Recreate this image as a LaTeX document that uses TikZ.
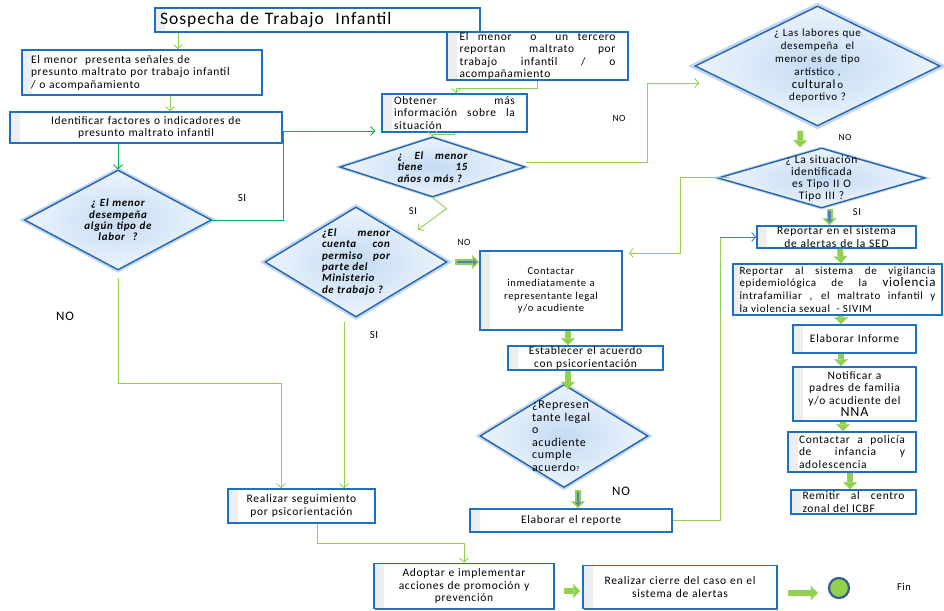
\documentclass[tikz,border=0pt]{standalone}
\usepackage{fontspec}
\setmainfont{Carlito}[LetterSpace=6]
\usepackage{tikz}
\usetikzlibrary{shapes.geometric,shadows,arrows.meta,calc}

\definecolor{boxblue}{RGB}{30,112,192}
\definecolor{shadowblue}{RGB}{20,45,90}
\definecolor{diamblue}{RGB}{40,100,165}
\definecolor{diamfill}{RGB}{196,219,243}
\definecolor{diamlight}{RGB}{236,244,252}
\definecolor{glowblue}{RGB}{150,190,235}
\definecolor{lgreen}{RGB}{146,208,80}
\definecolor{dgreen}{RGB}{0,176,80}
\definecolor{coreblue}{RGB}{79,129,189}
\definecolor{finblue}{RGB}{56,93,138}

\begin{document}
\begin{tikzpicture}[x=1pt,y=-1pt,
    box/.style={rectangle, draw=boxblue, line width=1.6pt, fill=white, inner sep=0pt,
      align=center, font=\fontsize{11.5}{12.5}\selectfont,
      drop shadow={fill=shadowblue, opacity=0.7, shadow xshift=1.2pt, shadow yshift=-1.2pt},
      path picture={\fill[left color=black!7, right color=white]
        (path picture bounding box.south west) rectangle ([xshift=10pt]path picture bounding box.north west);}},
    decision/.style={diamond, draw=diamblue, line width=1.4pt, inner sep=-6pt, align=center,
      inner color=diamfill, outer color=diamlight,
      drop shadow={fill=glowblue, opacity=0.6, shadow xshift=0pt, shadow yshift=0pt, shadow scale=1.06}},
    ask/.style={font=\fontsize{11}{11.3}\selectfont\bfseries\itshape},
    tag/.style={font=\fontsize{11}{12}\selectfont},
    link/.style={draw=lgreen, line width=0.9pt},
    block/.style={draw=lgreen, line width=6pt, -{Triangle[width=14pt,length=7pt,line width=0.1pt]}},
    core/.style={draw=coreblue, line width=2.6pt, shorten <=2pt, shorten >=2.5pt,
      -{Triangle[width=6pt,length=3.5pt,line width=0.1pt]}},
    execute at begin node={\hyphenpenalty=10000},
    >={Straight Barb[length=4pt,width=9pt]}]
  \useasboundingbox (0,0) rectangle (944,610);

  \node[box, line width=2.6pt, minimum width=325, minimum height=24, text width=315, align=left,
    font=\fontsize{17.5}{20}\selectfont] (sospecha) at (317.5,20) {Sospecha de Trabajo\ \ Infantil};
  \node[box, minimum width=240, minimum height=45, text width=222, align=left] (senales) at (142,72.5)
    {El menor~ presenta señales de\\ presunto maltrato por trabajo infantil\\ / o acompañamiento};
  \node[box, minimum width=272, minimum height=31, text width=260] (factores) at (146,127.5)
    {Identificar factores o indicadores de\\ presunto maltrato infantil};
  \node[decision, aspect=1.87, minimum width=187, minimum height=100, text width=74, ask] (labor) at (118,220)
    {¿ El menor\\ desempeña\\ algún tipo de\\ labor~ ?};

  \node[box, minimum width=181, minimum height=48, text width=156, align=justify] (tercero) at (537.5,56)
    {El menor~ o~ un tercero\linebreak reportan maltrato por\linebreak trabajo infantil / o\linebreak acompañamiento};
  \node[box, minimum width=145, minimum height=38, text width=121, align=justify] (info) at (454.5,113)
    {Obtener más\linebreak información sobre la\linebreak situación};
  \node[decision, aspect=3.08, minimum width=185, minimum height=60, text width=70, ask, align=justify] (edad) at (432.5,167)
    {¿ El menor\linebreak tiene 15\linebreak años o más ?};
  \node[decision, aspect=1.65, minimum width=182, minimum height=110, text width=68, ask, align=justify] (permiso) at (356,262)
    {¿El menor\linebreak cuenta con\linebreak permiso por\linebreak parte del\\ Ministerio\\ de trabajo ?};

  \node[box, minimum width=142, minimum height=79, text width=130, font=\fontsize{10.5}{12.4}\selectfont] (contactar) at (551,290.5)
    {Contactar\\ inmediatamente a\\ representante legal\\ y/o acudiente};
  \node[box, minimum width=155, minimum height=24, text width=150] (acuerdo) at (585.5,358)
    {Establecer el acuerdo\\ con psicorientación};
  \node[decision, aspect=1.63, minimum width=168, minimum height=103, text width=64, align=left,
    font=\fontsize{12}{12.5}\selectfont] (cumple) at (564,436)
    {¿Represen\\ tante legal\\ o\\ acudiente\\ cumple\\ acuerdo{\scriptsize ?}};
  \node[box, minimum width=202, minimum height=23, text width=190] (reporte) at (571,520.5) {Elaborar el reporte};

  \node[decision, aspect=2.04, minimum width=245, minimum height=120, text width=110,
    font=\fontsize{11}{12.8}\selectfont] (artistico) at (817.5,66)
    {¿ Las labores que\\ desempeña~ el\\ menor es de tipo\\ artístico ,\\ {\fontsize{12.5}{12.8}\selectfont cultural}\,o\\ deportivo ?};
  \node[decision, aspect=3.45, minimum width=207, minimum height=60, text width=86,
    font=\fontsize{11.5}{12}\selectfont] (tipo) at (821.5,178)
    {¿ La situación\\ identificada\\ es Tipo II O\\ Tipo III ?};

  \node[box, minimum width=159, minimum height=22, text width=150] (sed) at (836.5,237)
    {Reportar en el sistema\\ de alertas de la SED};
  \node[box, minimum width=209, minimum height=51, text width=196, align=justify,
    font=\fontsize{11}{12.8}\selectfont] (sivim) at (837.5,289.5)
    {Reportar al sistema de vigilancia\linebreak epidemiológica de la {\fontsize{13}{12.8}\selectfont violencia}\linebreak intrafamiliar , el maltrato infantil y\linebreak la violencia sexual~ - SIVIM};
  \node[box, minimum width=123, minimum height=28, text width=115] (informe) at (854.5,339) {Elaborar Informe};
  \node[box, minimum width=123, minimum height=54, text width=118] (notificar) at (854.5,394)
    {Notificar a\\ padres de familia\\ y/o acudiente del\\ {\fontsize{14}{13}\selectfont NNA}};
  \node[box, minimum width=128, minimum height=40, text width=106, align=justify] (policia) at (852,452)
    {Contactar a policía\linebreak de infancia y\linebreak adolescencia};
  \node[box, minimum width=125, minimum height=24, text width=102, align=justify] (icbf) at (853.5,502)
    {Remitir al centro\linebreak zonal del ICBF};

  \node[box, minimum width=147, minimum height=34, text width=140] (seguimiento) at (301.5,506)
    {Realizar seguimiento\\ por psicorientación};
  \node[box, minimum width=180, minimum height=45, text width=176] (promocion) at (464,586)
    {Adoptar e implementar\\ acciones de promoción y\\ prevención};
  \node[box, minimum width=194, minimum height=43, text width=186] (cierre) at (680,587)
    {Realizar cierre del caso en el\\ sistema de alertas};
  \node[circle, draw=finblue, line width=2.2pt, fill=lgreen, minimum size=20] (fin) at (839,588) {};

  \node[tag] (si1) at (242,198) {SI};
  \node[tag, font=\fontsize{9.5}{10}\selectfont] (no1) at (619,118) {NO};
  \node[tag, font=\fontsize{9.5}{10}\selectfont] (no2) at (845,137) {NO};
  \node[tag, font=\fontsize{10.5}{11}\selectfont] (si2) at (413,211) {SI};
  \node[tag, font=\fontsize{9.5}{10}\selectfont] (no3) at (464,242) {NO};
  \node[tag, font=\fontsize{10.5}{11}\selectfont] (si3) at (857,212) {SI};
  \node[tag, font=\fontsize{13}{14}\selectfont] (no4) at (65,316) {NO};
  \node[tag] (si4) at (374,335) {SI};
  \node[tag, font=\fontsize{13}{14}\selectfont] (no5) at (621,491) {NO};
  \node[tag, font=\fontsize{10.5}{11}\selectfont] (finlabel) at (904,587) {Fin};

  \draw[link,->] ([xshift=-139.5pt]sospecha.south) -- ([xshift=36pt]senales.north);
  \draw[link,->] ([xshift=28pt]senales.south) -- ([xshift=24pt]factores.north);
  \draw[link,draw=dgreen,->] ([xshift=-28pt]factores.south) -- (labor.north);
  \draw[link,draw=dgreen,->] (labor.east) -- ++(71,0) |- ([xshift=-6pt,yshift=-18pt]info.west);
  \draw[link,->] (tercero.south) -- ++(0,8) -| ([xshift=1.5pt]info.north);
  \draw[link,->] (info.south) -- ++(0,2) -| (edad.north);
  \draw[link,->] (edad.south) -- ++(14,11) -- ([xshift=16pt,yshift=4.5pt]permiso.north east);
  \draw[link,->] ([yshift=5pt]edad.east) -- ++(122,0) |- ([xshift=5pt,yshift=-17pt]artistico.west);
  \draw[link,->] ([xshift=12pt,yshift=1pt]tipo.west) -- ++(-49,0) |- ([xshift=6pt,yshift=37.5pt]contactar.east);
  \coordinate (sedturn) at ([xshift=-36pt]sed.west);
  \draw[link] (reporte.east) -| (sedturn);
  \draw[link,draw=coreblue,->] (sedturn) -- (sed.west);
  \draw[link,->] ([yshift=-7pt]labor.south) -- ++(0,106) -| ([xshift=-20.5pt]seguimiento.north);
  \draw[link,->] ([xshift=-12pt,yshift=-4pt]permiso.south) -- ([xshift=42.5pt]seguimiento.north);
  \draw[link,->] ([xshift=15.5pt]seguimiento.south) -- ++(0,20) -| (promocion.north);

  \draw[block] ([xshift=-17pt,yshift=-4pt]artistico.south) -- ([xshift=-21.5pt]tipo.north);
  \draw[block] ([xshift=8pt]tipo.south) -- ([xshift=-7pt]sed.north);
  \draw[core] ([xshift=8pt]tipo.south) -- ([xshift=-7pt]sed.north);
  \draw[block] ([xshift=3.5pt]sed.south) -- ([xshift=3.5pt]sivim.north);
  \draw[block] ([xshift=3.5pt]sivim.south) -- ([xshift=-13.5pt]informe.north);
  \draw[block] ([xshift=-13.5pt]informe.south) -- ([xshift=-13.5pt]notificar.north);
  \draw[block] ([xshift=-11.5pt]notificar.south) -- ([xshift=-9pt]policia.north);
  \draw[block] ([xshift=-2pt]policia.south) -- ([xshift=-3.5pt]icbf.north);
  \draw[block] ([xshift=7pt]permiso.east) -- ([yshift=28.5pt]contactar.west);
  \draw[core] ([xshift=7pt]permiso.east) -- ([yshift=28.5pt]contactar.west);
  \draw[block] ([xshift=17pt]contactar.south) -- ([xshift=-17.5pt]acuerdo.north);
  \draw[block] ([xshift=-17.5pt]acuerdo.south) -- ([xshift=4pt,yshift=-5pt]cumple.north);
  \draw[block] ([xshift=14pt,yshift=-2pt]cumple.south) -- ([xshift=7pt]reporte.north);
  \draw[core] ([xshift=14pt,yshift=-2pt]cumple.south) -- ([xshift=7pt]reporte.north);
  \draw[block] ([xshift=9pt,yshift=-5pt]promocion.east) -- ([xshift=-2pt,yshift=-4pt]cierre.west);
  \draw[block] ([xshift=10pt,yshift=-6pt]cierre.east) -- ([xshift=-10pt,yshift=-5pt]fin.west);
\end{tikzpicture}
\end{document}
